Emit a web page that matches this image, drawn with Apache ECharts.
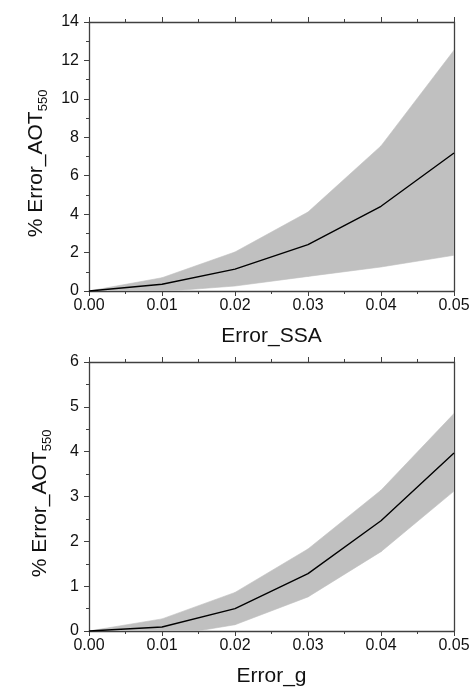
<!DOCTYPE html>
<html>
<head>
<meta charset="utf-8">
<script src="https://cdn.jsdelivr.net/npm/echarts@6/dist/echarts.min.js"></script>
<style>
  html, body { margin: 0; padding: 0; background: #fff; }
  #main { width: 474px; height: 698px; }
</style>
</head>
<body>
<div id="main"></div>
<script>
// x values (error in the input parameter)
var xVals = [0, 0.01, 0.02, 0.03, 0.04, 0.05];

// top panel: Error_SSA
var ssaMean = [0, 0.35, 1.14, 2.41, 4.41, 7.18];
var ssaLow  = [0, -0.03, 0.26, 0.76, 1.25, 1.86];
var ssaHigh = [0, 0.69, 2.03, 4.11, 7.55, 12.53];

// bottom panel: Error_g
var gMean = [0, 0.09, 0.50, 1.28, 2.46, 3.97];
var gLow  = [0, -0.13, 0.14, 0.76, 1.77, 3.12];
var gHigh = [0, 0.27, 0.86, 1.83, 3.14, 4.85];

var xTicks = ['0.00', '0.01', '0.02', '0.03', '0.04', '0.05'];

var chart = echarts.init(document.getElementById('main'));

var axisColor = '#404040';
var font = 'Liberation Sans, Arial, sans-serif';

function pairs(vals) {
  return xVals.map(function (x, i) { return [x, vals[i]]; });
}
// one row per segment: [x0, lo0, hi0, x1, lo1, hi1]
function segments(lo, hi) {
  var rows = [];
  for (var i = 0; i < xVals.length - 1; i++) {
    rows.push([xVals[i], lo[i], hi[i], xVals[i + 1], lo[i + 1], hi[i + 1]]);
  }
  return rows;
}

function renderBand(params, api) {
  var a = api.coord([api.value(0), api.value(1)]);
  var b = api.coord([api.value(0), api.value(2)]);
  var c = api.coord([api.value(3), api.value(5)]);
  var d = api.coord([api.value(3), api.value(4)]);
  return {
    type: 'polygon',
    shape: { points: [a, b, c, d] },
    style: { fill: '#c0c0c0', stroke: '#c0c0c0', lineWidth: 0.6 }
  };
}

function xBottom(grid, name) {
  return {
    type: 'value', gridIndex: grid, position: 'bottom',
    min: 0, max: 0.05, interval: 0.01,
    name: name, nameLocation: 'middle', nameGap: 35,
    nameTextStyle: { fontSize: 21, color: '#111', fontFamily: font },
    axisLine: { show: true, onZero: false, lineStyle: { color: axisColor, width: 1.3 } },
    axisTick: { show: true, inside: false, length: 5, lineStyle: { color: axisColor } },
    minorTick: { show: true, splitNumber: 2, length: 3, lineStyle: { color: axisColor } },
    axisLabel: {
      fontSize: 16, color: '#111', fontFamily: font, margin: 7,
      formatter: function (v) { return xTicks[Math.round(v * 100)]; }
    },
    splitLine: { show: false }
  };
}
function xTop(grid) {
  return {
    type: 'value', gridIndex: grid, position: 'top',
    min: 0, max: 0.05, interval: 0.01,
    axisLine: { show: true, onZero: false, lineStyle: { color: axisColor, width: 1.3 } },
    axisTick: { show: true, inside: false, length: 5, lineStyle: { color: axisColor } },
    minorTick: { show: true, splitNumber: 2, length: 3, lineStyle: { color: axisColor } },
    axisLabel: { show: false },
    splitLine: { show: false }
  };
}
function yLeft(grid, max, step) {
  return {
    type: 'value', gridIndex: grid, position: 'left',
    min: 0, max: max, interval: step,
    name: '% Error_AOT{sub|550}', nameLocation: 'middle', nameGap: 35,
    nameTextStyle: {
      fontSize: 21, color: '#111', fontFamily: font,
      padding: [0, 14, 0, 0],
      rich: {
        sub: { fontSize: 13, lineHeight: 13, verticalAlign: 'bottom', color: '#111', fontFamily: font }
      },
      lineHeight: 28
    },
    axisLine: { show: true, onZero: false, lineStyle: { color: axisColor, width: 1.3 } },
    axisTick: { show: true, inside: false, length: 5, lineStyle: { color: axisColor } },
    minorTick: { show: true, splitNumber: 2, length: 3, lineStyle: { color: axisColor } },
    axisLabel: { fontSize: 16, color: '#111', fontFamily: font, margin: 10 },
    splitLine: { show: false }
  };
}
function yRight(grid, max, step) {
  return {
    type: 'value', gridIndex: grid, position: 'right',
    min: 0, max: max, interval: step,
    axisLine: { show: true, onZero: false, lineStyle: { color: axisColor, width: 1.3 } },
    axisTick: { show: false },
    axisLabel: { show: false },
    splitLine: { show: false }
  };
}

function bandSeries(grid, lo, hi, mean) {
  var xi = grid * 2, yi = grid * 2;
  return [
    {
      type: 'custom', xAxisIndex: xi, yAxisIndex: yi,
      data: segments(lo, hi), renderItem: renderBand,
      encode: { x: [0, 3], y: [1, 2, 4, 5] },
      clip: true, silent: true, z: 1
    },
    {
      type: 'line', xAxisIndex: xi, yAxisIndex: yi,
      data: pairs(mean), symbol: 'none',
      lineStyle: { color: '#000', width: 1.4 }, z: 3
    }
  ];
}

var option = {
  backgroundColor: '#fff',
  animation: false,
  grid: [
    { left: 89, right: 20, top: 22, height: 269 },
    { left: 89, right: 20, top: 362, height: 269 }
  ],
  xAxis: [xBottom(0, 'Error_SSA'), xTop(0), xBottom(1, 'Error_g'), xTop(1)],
  yAxis: [yLeft(0, 14, 2), yRight(0, 14, 2), yLeft(1, 6, 1), yRight(1, 6, 1)],
  series: [].concat(
    bandSeries(0, ssaLow, ssaHigh, ssaMean),
    bandSeries(1, gLow, gHigh, gMean)
  )
};

chart.setOption(option);
</script>
</body>
</html>
